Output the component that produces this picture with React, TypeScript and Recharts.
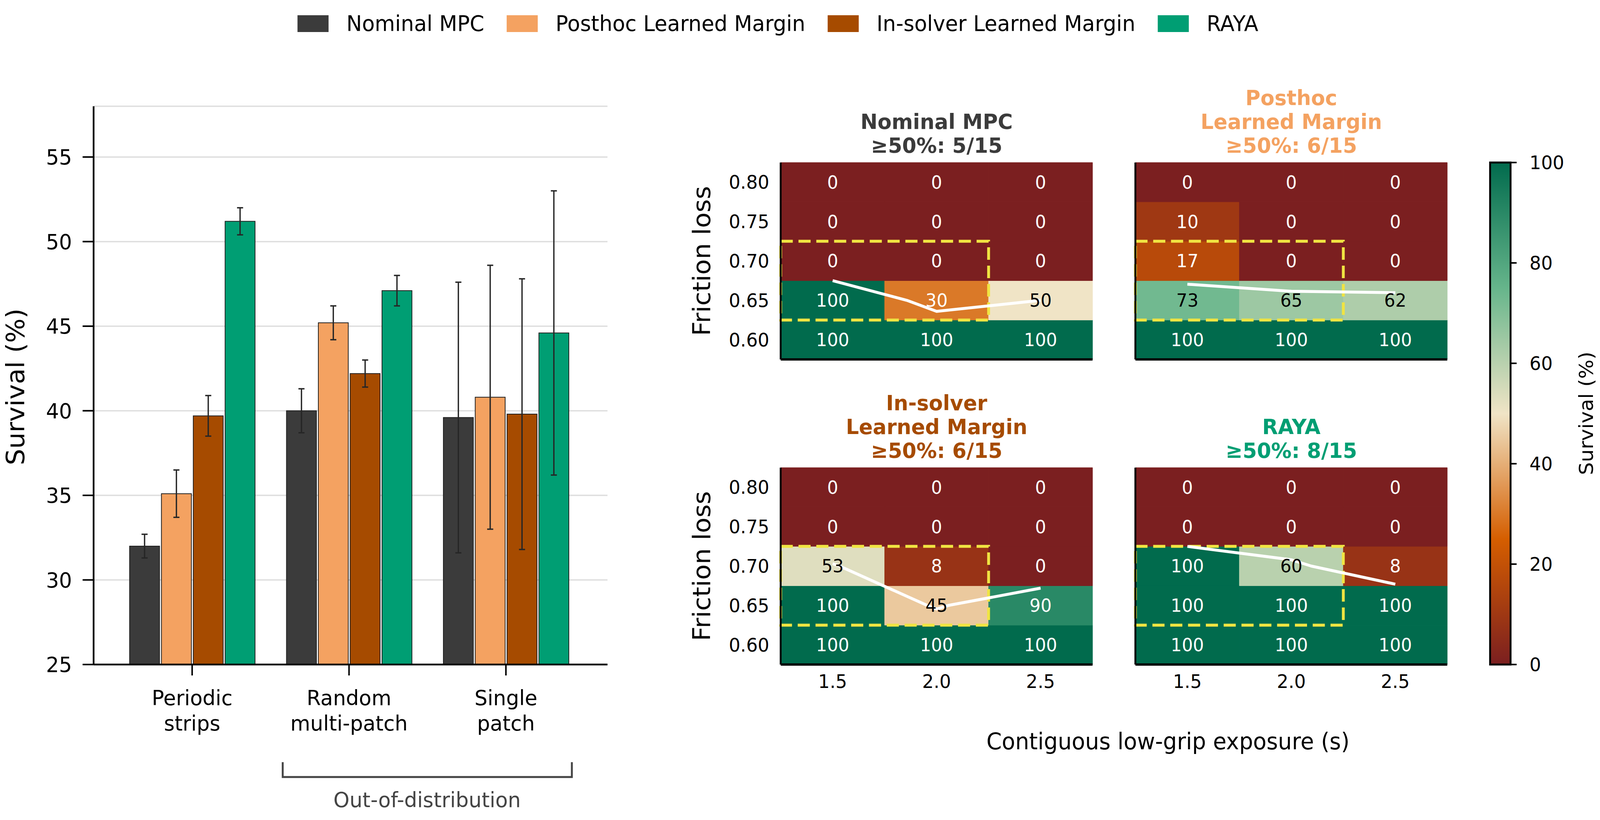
import React, { useLayoutEffect, useState } from "react";
import {
  BarChart,
  Bar,
  XAxis,
  YAxis,
  CartesianGrid,
  ErrorBar,
  Legend,
  ComposedChart,
  Line,
  ReferenceArea,
} from "recharts";

const FONT = "'DejaVu Sans', sans-serif";
const FIG_W = 4222;
const FIG_H = 2099;

// ---------- left panel: survival per terrain ----------
const scenarios = ["Periodic\nstrips", "Random\nmulti-patch", "Single\npatch"];
const methodNames = ["Nominal MPC", "Posthoc Learned Margin", "In-solver Learned Margin", "RAYA"];
const nominalMean = [32.0, 40.0, 39.6];
const nominalErr = [0.7, 1.3, 8.0];
const posthocMean = [35.1, 45.2, 40.8];
const posthocErr = [1.4, 1.0, 7.8];
const inSolverMean = [39.7, 42.2, 39.8];
const inSolverErr = [1.2, 0.8, 8.0];
const rayaMean = [51.2, 47.1, 44.6];
const rayaErr = [0.8, 0.9, 8.4];
const survivalTicks = [25, 30, 35, 40, 45, 50, 55];

// ---------- right panels: friction loss x exposure sweep ----------
const exposures = [1.5, 2.0, 2.5];
const frictions = [0.6, 0.65, 0.7, 0.75, 0.8];
// rows follow `frictions`, columns follow `exposures`
const nominalGrid = [
  [100, 100, 100],
  [100, 30, 50],
  [0, 0, 0],
  [0, 0, 0],
  [0, 0, 0],
];
const posthocGrid = [
  [100, 100, 100],
  [73, 65, 62],
  [17, 0, 0],
  [10, 0, 0],
  [0, 0, 0],
];
const inSolverGrid = [
  [100, 100, 100],
  [100, 45, 90],
  [53, 8, 0],
  [0, 0, 0],
  [0, 0, 0],
];
const rayaGrid = [
  [100, 100, 100],
  [100, 100, 100],
  [100, 60, 8],
  [0, 0, 0],
  [0, 0, 0],
];
// 50% survival boundary
const nominalContour = [
  { x: 1.5, y: 0.675 },
  { x: 1.857, y: 0.65 },
  { x: 2.0, y: 0.636 },
  { x: 2.5, y: 0.65 },
];
const posthocContour = [
  { x: 1.5, y: 0.6705 },
  { x: 2.0, y: 0.6615 },
  { x: 2.5, y: 0.6597 },
];
const inSolverContour = [
  { x: 1.5, y: 0.703 },
  { x: 1.533, y: 0.7 },
  { x: 1.955, y: 0.65 },
  { x: 2.0, y: 0.6455 },
  { x: 2.056, y: 0.65 },
  { x: 2.5, y: 0.672 },
];
const rayaContour = [
  { x: 1.5, y: 0.725 },
  { x: 2.0, y: 0.708 },
  { x: 2.096, y: 0.7 },
  { x: 2.5, y: 0.677 },
];
const highlightExposures = [1.5, 2.0];
const highlightFrictions = [0.65, 0.7];
const panelTitles = [["Nominal MPC"], ["Posthoc", "Learned Margin"], ["In-solver", "Learned Margin"], ["RAYA"]];
const colorbarTicks = [0, 20, 40, 60, 80, 100];

// ---------- styling ----------
const methodColors = ["#3b3b3b", "#f4a261", "#a64b00", "#009e73"];
const cmapStops = [0, 25, 50, 75, 100];
const cmapColors = ["#7b1f20", "#d55e00", "#f0e4c6", "#66b58b", "#016b4d"];

const barKeys = ["nominal", "posthoc", "inSolver", "raya"];
const barMeans = [nominalMean, posthocMean, inSolverMean, rayaMean];
const barErrs = [nominalErr, posthocErr, inSolverErr, rayaErr];
const barData = scenarios.map((s, i) => {
  const row: Record<string, any> = { scenario: s };
  barKeys.forEach((k, j) => {
    row[k] = barMeans[j][i];
    row[k + "Err"] = barErrs[j][i];
  });
  return row;
});

const heatGrids = [nominalGrid, posthocGrid, inSolverGrid, rayaGrid];
const heatContours = [nominalContour, posthocContour, inSolverContour, rayaContour];

const PANELS = [
  { left: 2060, top: 416, showX: false, showY: true },
  { left: 2996, top: 416, showX: false, showY: false },
  { left: 2060, top: 1197, showX: true, showY: true },
  { left: 2996, top: 1197, showX: true, showY: false },
];
const PLOT_W = 823;
const PLOT_H = 504;

function hex(c: string) {
  return [1, 3, 5].map((i) => parseInt(c.slice(i, i + 2), 16));
}
function cmap(v: number) {
  let i = 0;
  while (i < cmapStops.length - 2 && v > cmapStops[i + 1]) i++;
  const t = (v - cmapStops[i]) / (cmapStops[i + 1] - cmapStops[i]);
  const a = hex(cmapColors[i]);
  const b = hex(cmapColors[i + 1]);
  const m = a.map((x, k) => Math.round(x + (b[k] - x) * t));
  return `rgb(${m[0]},${m[1]},${m[2]})`;
}
const annotationColor = (v: number) => (v >= 40 && v <= 80 ? "#000" : "#fff");

function ScenarioTick({ x, y, payload }: any) {
  const lines = String(payload.value).split("\n");
  return (
    <text x={x} y={y} textAnchor="middle" fontSize={54} fill="#000" fontFamily={FONT}>
      {lines.map((l, i) => (
        <tspan key={i} x={x} dy={i === 0 ? 70 : 65}>
          {l}
        </tspan>
      ))}
    </text>
  );
}

const renderLegend = (props: any) => {
  const items = [...(props.payload || [])].sort(
    (a: any, b: any) => methodNames.indexOf(a.value) - methodNames.indexOf(b.value)
  );
  return (
    <div
      style={{
        display: "flex",
        alignItems: "center",
        height: 120,
        paddingLeft: 785,
        fontFamily: FONT,
        fontSize: 55,
        whiteSpace: "nowrap",
        color: "#000",
      }}
    >
      {items.map((p: any, i: number) => (
        <div key={p.value} style={{ display: "flex", alignItems: "center", marginLeft: i ? 59 : 0 }}>
          <span style={{ display: "inline-block", width: 82, height: 43, background: p.color, marginRight: 47 }} />
          <span style={{ lineHeight: 1 }}>{p.value}</span>
        </div>
      ))}
    </div>
  );
};

function SurvivalBars() {
  return (
    <div style={{ position: "absolute", left: 0, top: 0 }}>
      <BarChart
        width={1700}
        height={2099}
        data={barData}
        margin={{ top: 272, right: 97, bottom: 198, left: 97 }}
        barSize={79}
        barGap={5}
      >
        <CartesianGrid vertical={false} stroke="#dedede" strokeWidth={3.5} />
        <XAxis
          dataKey="scenario"
          interval={0}
          height={200}
          padding={{ left: 53, right: 61 }}
          axisLine={{ stroke: "#000", strokeWidth: 4.5 }}
          tickLine={{ stroke: "#000", strokeWidth: 4 }}
          tickSize={28}
          tickMargin={6}
          tick={(p: any) => <ScenarioTick {...p} />}
        />
        <YAxis
          type="number"
          domain={[25, 58]}
          ticks={survivalTicks}
          interval={0}
          width={150}
          axisLine={{ stroke: "#000", strokeWidth: 4.5 }}
          tickLine={{ stroke: "#000", strokeWidth: 4 }}
          tickSize={29}
          tickMargin={28}
          tick={{ fontSize: 54, fill: "#000", fontFamily: FONT }}
        />
        {barKeys.map((k, j) => (
          <Bar
            key={k}
            dataKey={k}
            name={methodNames[j]}
            fill={methodColors[j]}
            stroke="#1e1e1e"
            strokeWidth={2}
            isAnimationActive={false}
          >
            <ErrorBar dataKey={k + "Err"} width={8} strokeWidth={3.5} stroke="#262626" direction="y" />
          </Bar>
        ))}
        <Legend
          layout="horizontal"
          verticalAlign="middle"
          align="center"
          wrapperStyle={{ left: 0, top: 0, width: FIG_W, height: 120 }}
          content={renderLegend}
        />
      </BarChart>
    </div>
  );
}

function HeatPanel({ grid, contour, layout }: any) {
  const L = 220, T = 40, R = 20, B = 120;
  const dx = exposures[1] - exposures[0];
  const dy = frictions[1] - frictions[0];
  const xDomain = [exposures[0] - dx / 2, exposures[exposures.length - 1] + dx / 2];
  const yDomain = [frictions[0] - dy / 2, frictions[frictions.length - 1] + dy / 2];
  const cells: { e: number; f: number; v: number }[] = [];
  frictions.forEach((f, r) => exposures.forEach((e, c) => cells.push({ e, f, v: grid[r][c] })));
  const tickStyle = { fontSize: 48, fill: "#000", fontFamily: FONT };
  return (
    <div style={{ position: "absolute", left: layout.left - L, top: layout.top - T }}>
      <ComposedChart
        width={L + PLOT_W + R}
        height={T + PLOT_H + B}
        margin={{ top: T, right: R, bottom: B - 100, left: L - 200 }}
      >
        <XAxis
          type="number"
          dataKey="x"
          domain={xDomain}
          ticks={exposures}
          interval={0}
          height={100}
          axisLine={{ stroke: "#000", strokeWidth: 6 }}
          tickLine={false}
          tickSize={0}
          tickMargin={26}
          tick={layout.showX ? tickStyle : false}
          tickFormatter={(v: number) => v.toFixed(1)}
        />
        <YAxis
          type="number"
          domain={yDomain}
          ticks={frictions}
          interval={0}
          width={200}
          axisLine={{ stroke: "#000", strokeWidth: 5 }}
          tickLine={false}
          tickSize={0}
          tickMargin={30}
          tick={layout.showY ? tickStyle : false}
          tickFormatter={(v: number) => v.toFixed(2)}
        />
        {cells.map((c, i) => (
          <ReferenceArea
            key={i}
            x1={c.e - dx / 2}
            x2={c.e + dx / 2}
            y1={c.f - dy / 2}
            y2={c.f + dy / 2}
            fill={cmap(c.v)}
            fillOpacity={1}
            stroke={cmap(c.v)}
            strokeWidth={1}
            ifOverflow="visible"
            label={{
              value: String(c.v),
              position: "center",
              fill: annotationColor(c.v),
              fontSize: 46,
              fontFamily: FONT,
            }}
          />
        ))}
        <ReferenceArea
          x1={highlightExposures[0] - dx / 2}
          x2={highlightExposures[highlightExposures.length - 1] + dx / 2}
          y1={highlightFrictions[0] - dy / 2}
          y2={highlightFrictions[highlightFrictions.length - 1] + dy / 2}
          fill="none"
          fillOpacity={0}
          stroke="#f0e442"
          strokeWidth={7.5}
          strokeDasharray="32 15"
          ifOverflow="visible"
        />
        <Line
          data={contour}
          dataKey="y"
          type="linear"
          stroke="#fff"
          strokeWidth={7.5}
          strokeLinejoin="round"
          dot={false}
          activeDot={false}
          isAnimationActive={false}
        />
      </ComposedChart>
    </div>
  );
}

function Colorbar() {
  const left = 3932, top = 416, w = 54, h = 1285;
  const pad = 60;
  return (
    <div style={{ position: "absolute", left: left - 20, top: top - pad }}>
      <BarChart
        width={20 + w + 200}
        height={pad + h + pad}
        data={[{ k: "survival", v: colorbarTicks[colorbarTicks.length - 1] }]}
        margin={{ top: pad, right: 0, bottom: pad, left: 20 }}
        barCategoryGap={0}
      >
        <defs>
          <linearGradient id="survivalCmap" x1="0" y1="1" x2="0" y2="0">
            {cmapStops.map((s, i) => (
              <stop key={s} offset={`${s}%`} stopColor={cmapColors[i]} />
            ))}
          </linearGradient>
        </defs>
        <XAxis dataKey="k" hide />
        <YAxis
          orientation="right"
          type="number"
          domain={[0, 100]}
          ticks={colorbarTicks}
          interval={0}
          width={200}
          axisLine={false}
          tickLine={{ stroke: "#000", strokeWidth: 4 }}
          tickSize={16}
          tickMargin={34}
          tick={{ fontSize: 48, fill: "#000", fontFamily: FONT }}
        />
        <Bar dataKey="v" fill="url(#survivalCmap)" stroke="#000" strokeWidth={5} isAnimationActive={false} />
      </BarChart>
    </div>
  );
}

function Annotations() {
  return (
    <svg
      width={FIG_W}
      height={FIG_H}
      style={{ position: "absolute", left: 0, top: 0, pointerEvents: "none" }}
      fontFamily={FONT}
    >
      <text transform="translate(64,990) rotate(-90)" textAnchor="middle" fontSize={66} fill="#000">
        Survival (%)
      </text>
      <path d="M746,1951 V1989 H1509 V1951" fill="none" stroke="#444" strokeWidth={5} />
      <text x={1127} y={2066} textAnchor="middle" fontSize={54} fill="#444">
        Out-of-distribution
      </text>
      {PANELS.map((p, i) => {
        const flat = heatGrids[i].flat();
        const lines = [...panelTitles[i], `≥50%: ${flat.filter((v) => v >= 50).length}/${flat.length}`];
        const cx = p.left + PLOT_W / 2;
        const lastBase = p.top - 25;
        return (
          <text key={i} textAnchor="middle" fontSize={54} fontWeight="bold" fill={methodColors[i]}>
            {lines.map((l, j) => (
              <tspan key={j} x={cx} y={lastBase - (lines.length - 1 - j) * 61}>
                {l}
              </tspan>
            ))}
          </text>
        );
      })}
      {PANELS.filter((p) => p.showY).map((p, i) => (
        <text
          key={i}
          transform={`translate(1874,${p.top + PLOT_H / 2}) rotate(-90)`}
          textAnchor="middle"
          fontSize={65}
          fill="#000"
        >
          Friction loss
        </text>
      ))}
      <text x={3082} y={1918} textAnchor="middle" fontSize={58} fill="#000">
        Contiguous low-grip exposure (s)
      </text>
      <text transform="translate(4203,1058) rotate(-90)" textAnchor="middle" fontSize={52} fill="#000">
        Survival (%)
      </text>
    </svg>
  );
}

export default function App() {
  // the browser may cap the viewport below the figure size; fit the figure into it
  const [fit, setFit] = useState({ kx: 1, ky: 1 });
  useLayoutEffect(() => {
    const el = document.documentElement;
    setFit({
      kx: Math.min(1, el.clientWidth / FIG_W),
      ky: Math.min(1, el.clientHeight / FIG_H),
    });
  }, []);
  return (
    <div style={{ width: FIG_W * fit.kx, height: FIG_H * fit.ky, overflow: "hidden", position: "relative" }}>
      <style>{"body{margin:0;overflow:hidden}"}</style>
      <div
        style={{
          position: "absolute",
          left: 0,
          top: 0,
          width: FIG_W,
          height: FIG_H,
          background: "#fff",
          fontFamily: FONT,
          transform: `scale(${fit.kx}, ${fit.ky})`,
          transformOrigin: "0 0",
        }}
      >
        <SurvivalBars />
        {PANELS.map((p, i) => (
          <HeatPanel key={i} grid={heatGrids[i]} contour={heatContours[i]} layout={p} />
        ))}
        <Colorbar />
        <Annotations />
      </div>
    </div>
  );
}
